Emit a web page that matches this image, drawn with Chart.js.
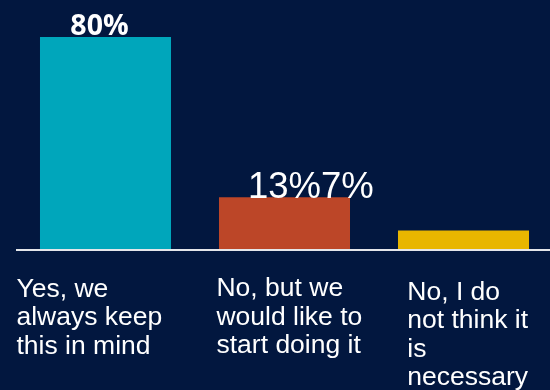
<!DOCTYPE html>
<html>
<head>
<meta charset="utf-8">
<script src="https://cdn.jsdelivr.net/npm/chart.js@4/dist/chart.umd.min.js"></script>
<style>
  html, body {
    margin: 0;
    padding: 0;
    width: 550px;
    height: 390px;
    overflow: hidden;
    background: #02173f;
  }
  canvas { display: block; }
</style>
</head>
<body>
<canvas id="chart" width="556" height="390"></canvas>
<script>
const categories = [
  ["Yes, we", "always keep", "this in mind"],
  ["No, but we", "would like to", "start doing it"],
  ["No, I do", "not think it", "is", "necessary"],
];
const barValues = [80, 19.5, 7];
const valueLabels = ["80%", "13%", "7%"];

const BG = "#02173f";
const BAR_COLORS = ["#00a6bb", "#bc4628", "#e8b600"];
const AXIS_COLOR = "#e4e6ea";
const TEXT_COLOR = "#ffffff";

// where each category label block starts, relative to its bar's left edge
const LABEL_OFFSETS = [
  { dx: -23.5, dy: 0 },
  { dx: -2.5, dy: -0.5 },
  { dx: 9.3, dy: 3 },
];

const textPlugin = {
  id: "barText",
  afterDatasetsDraw(chart) {
    const { ctx, chartArea } = chart;
    const bars = chart.getDatasetMeta(0).data;
    const y0 = chart.scales.y.getPixelForValue(0);

    ctx.save();

    // baseline under the bars
    ctx.strokeStyle = AXIS_COLOR;
    ctx.lineWidth = 2;
    ctx.beginPath();
    ctx.moveTo(chartArea.left, y0 + 1);
    ctx.lineTo(chart.width, y0 + 1);
    ctx.stroke();

    ctx.fillStyle = TEXT_COLOR;
    ctx.textBaseline = "alphabetic";

    // first value label, bold
    ctx.font = "700 28.5px 'Open Sans', 'Liberation Sans', sans-serif";
    ctx.textAlign = "center";
    ctx.fillText(valueLabels[0], bars[0].x - 6, bars[0].y - 2.5);

    // second and third labels run together above the second bar
    ctx.font = "36.5px 'Liberation Sans', Arial, sans-serif";
    ctx.textAlign = "left";
    const w1 = ctx.measureText(valueLabels[1]).width;
    const startX = bars[1].x - w1 / 2;
    const baseY = bars[1].y + 1;
    ctx.fillText(valueLabels[1], startX, baseY);
    ctx.fillText(valueLabels[2], startX + w1, baseY);

    // category labels
    ctx.font = "26.5px 'Liberation Sans', Arial, sans-serif";
    ctx.textAlign = "left";
    categories.forEach((lines, i) => {
      const bar = bars[i];
      const left = bar.x - bar.width / 2 + LABEL_OFFSETS[i].dx;
      const top = y0 + 47.5 + LABEL_OFFSETS[i].dy;
      lines.forEach((line, j) => {
        ctx.fillText(line, left, top + j * 28.5);
      });
    });

    ctx.restore();
  },
};

new Chart(document.getElementById("chart"), {
  type: "bar",
  data: {
    labels: categories.map((c) => c.join(" ")),
    datasets: [
      {
        data: barValues,
        backgroundColor: BAR_COLORS,
        borderWidth: 0,
        categoryPercentage: 1,
        barPercentage: 0.732,
      },
    ],
  },
  options: {
    responsive: false,
    animation: false,
    devicePixelRatio: 1,
    layout: {
      padding: { left: 16, right: 3, top: 37, bottom: 141 },
    },
    plugins: {
      legend: { display: false },
      tooltip: { enabled: false },
    },
    scales: {
      x: { display: false },
      y: { display: false, min: 0, max: 80 },
    },
  },
  plugins: [
    {
      id: "bg",
      beforeDraw(chart) {
        const { ctx } = chart;
        ctx.save();
        ctx.fillStyle = BG;
        ctx.fillRect(0, 0, chart.width, chart.height);
        ctx.restore();
      },
    },
    textPlugin,
  ],
});
</script>
</body>
</html>
